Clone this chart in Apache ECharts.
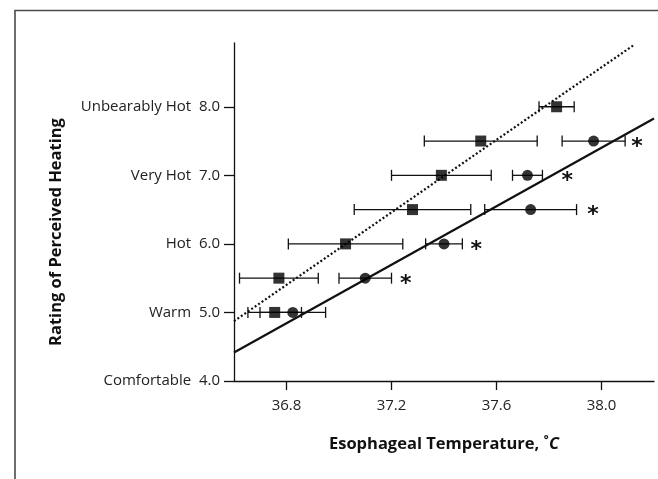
<!DOCTYPE html>
<html>
<head>
<meta charset="utf-8">
<script src="https://cdn.jsdelivr.net/npm/echarts@6/dist/echarts.min.js"></script>
<style>
  html, body { margin: 0; padding: 0; background: #fff; }
  #chart { width: 658px; height: 479px; }
</style>
</head>
<body>
<div id="chart"></div>
<script>
// ---- data ----
const ratingLevels = [4, 5, 6, 7, 8];
const ratingNames = ['Comfortable', 'Warm', 'Hot', 'Very Hot', 'Unbearably Hot'];
const tempTicks = [36.8, 37.2, 37.6, 38.0];

const squareTemp = [36.755, 36.771, 37.025, 37.28, 37.39, 37.54, 37.829];
const squareRating = [5.0, 5.5, 6.0, 6.5, 7.0, 7.5, 8.0];
const squareErr = [0.102, 0.15, 0.218, 0.222, 0.19, 0.215, 0.067];

const circleTemp = [36.824, 37.10, 37.40, 37.73, 37.718, 37.97];
const circleRating = [5.0, 5.5, 6.0, 6.5, 7.0, 7.5];
const circleErr = [0.125, 0.10, 0.07, 0.175, 0.057, 0.12];

const starTemp = [37.254, 37.523, 37.968, 37.87, 38.135];
const starRating = [5.5, 6.0, 6.5, 7.0, 7.5];

const squareFit = [[36.6, 4.873], [38.126, 8.908]];
const circleFit = [[36.6, 4.415], [38.2, 7.83]];

// ---- build ----
const FONT = 'Open Sans';
const sqData = squareTemp.map((t, i) => [t, squareRating[i], squareErr[i]]);
const ciData = circleTemp.map((t, i) => [t, circleRating[i], circleErr[i]]);
const starData = starTemp.map((t, i) => [t, starRating[i]]);

function renderErr(params, api) {
  const x = api.value(0), y = api.value(1), e = api.value(2);
  const p1 = api.coord([x - e, y]);
  const p2 = api.coord([x + e, y]);
  const h = 5.5;
  const st = { stroke: '#111', lineWidth: 1.3 };
  return {
    type: 'group',
    children: [
      { type: 'line', shape: { x1: p1[0], y1: p1[1], x2: p2[0], y2: p2[1] }, style: st },
      { type: 'line', shape: { x1: p1[0], y1: p1[1] - h, x2: p1[0], y2: p1[1] + h }, style: st },
      { type: 'line', shape: { x1: p2[0], y1: p2[1] - h, x2: p2[0], y2: p2[1] + h }, style: st }
    ]
  };
}

function renderStar(params, api) {
  const p = api.coord([api.value(0), api.value(1)]);
  return {
    type: 'text',
    x: p[0], y: p[1] + 6,
    style: {
      text: '*',
      font: 'bold 22px "DejaVu Sans"',
      fill: '#111',
      align: 'center',
      verticalAlign: 'middle'
    }
  };
}

const chart = echarts.init(document.getElementById('chart'), null, { renderer: 'canvas' });
chart.setOption({
  animation: false,
  backgroundColor: '#fff',
  grid: { left: 234, right: 4, top: 43, bottom: 98, containLabel: false },
  graphic: [
    {
      type: 'polyline',
      shape: { points: [[15, 479], [15, 10.5], [658, 10.5]] },
      style: { stroke: '#4a4a4a', lineWidth: 1.6, fill: null }
    },
    {
      type: 'text',
      x: 56, y: 232,
      rotation: Math.PI / 2,
      style: {
        text: 'Rating of Perceived Heating',
        font: 'bold 16.5px "' + FONT + '"',
        fill: '#111',
        align: 'center',
        verticalAlign: 'middle'
      }
    }
  ],
  xAxis: {
    type: 'value',
    min: 36.6, max: 38.2,
    axisLine: { show: true, lineStyle: { color: '#111', width: 1.3 } },
    axisTick: { show: true, length: 9, customValues: tempTicks, lineStyle: { color: '#111', width: 1.3 } },
    axisLabel: {
      customValues: tempTicks,
      formatter: v => v.toFixed(1),
      margin: 17,
      color: '#222',
      fontFamily: FONT,
      fontSize: 15
    },
    splitLine: { show: false },
    name: 'Esophageal Temperature, \u02DA{i|C}',
    nameLocation: 'middle',
    nameGap: 55,
    nameTextStyle: {
      fontFamily: FONT, fontWeight: 'bold', fontSize: 16.5, color: '#111',
      rich: { i: { fontFamily: FONT, fontWeight: 'bold', fontStyle: 'italic', fontSize: 16.5, color: '#111' } }
    }
  },
  yAxis: {
    type: 'value',
    min: 4, max: 8.93,
    axisLine: { show: true, lineStyle: { color: '#111', width: 1.3 } },
    axisTick: { show: true, length: 10, customValues: ratingLevels, lineStyle: { color: '#111', width: 1.3 } },
    axisLabel: {
      customValues: ratingLevels,
      formatter: v => ratingNames[ratingLevels.indexOf(Math.round(v))] + '  ' + v.toFixed(1),
      margin: 14,
      color: '#222',
      fontFamily: FONT,
      fontSize: 15
    },
    splitLine: { show: false }
  },
  series: [
    {
      type: 'line', data: squareFit, symbol: 'none', silent: true, z: 1,
      lineStyle: { color: '#111', width: 2.2, type: [2, 2.2], cap: 'butt' }
    },
    {
      type: 'line', data: circleFit, symbol: 'none', silent: true, z: 1,
      lineStyle: { color: '#111', width: 2.2 }
    },
    { type: 'custom', data: sqData, renderItem: renderErr, encode: { x: 0, y: 1 }, z: 2 },
    { type: 'custom', data: ciData, renderItem: renderErr, encode: { x: 0, y: 1 }, z: 2 },
    {
      type: 'scatter', data: sqData, symbol: 'rect', symbolSize: 11, z: 3,
      itemStyle: { color: '#000' }
    },
    {
      type: 'scatter', data: ciData, symbol: 'circle', symbolSize: 11, z: 3,
      itemStyle: { color: '#000' }
    },
    { type: 'custom', data: starData, renderItem: renderStar, encode: { x: 0, y: 1 }, z: 3 }
  ]
});
</script>
</body>
</html>
